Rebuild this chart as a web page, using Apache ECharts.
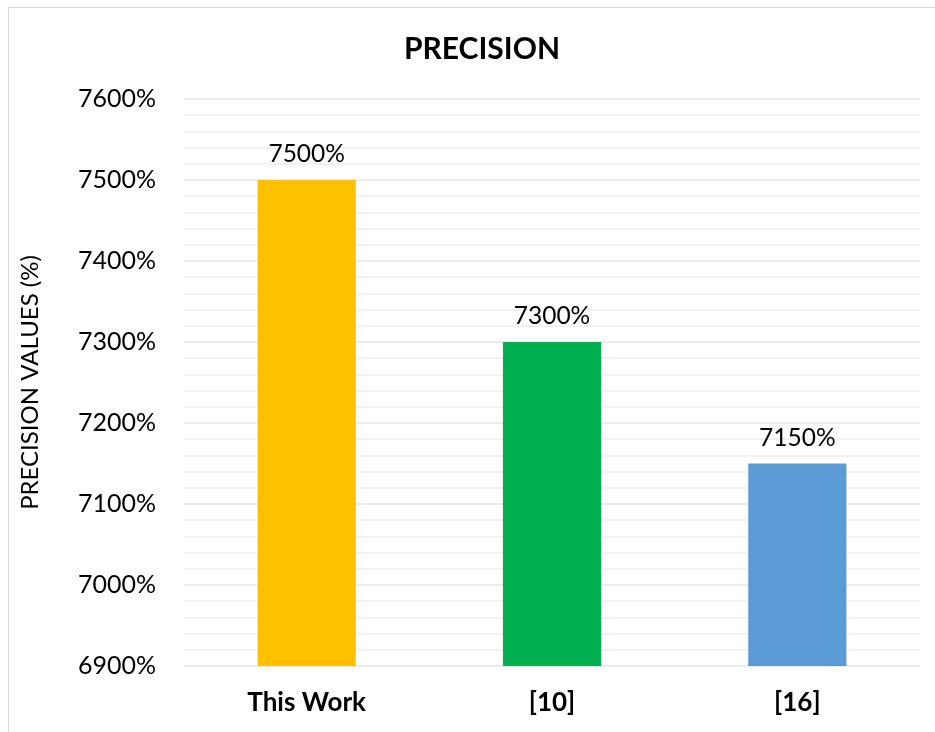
<!DOCTYPE html>
<html><head><meta charset="utf-8">
<script src="https://cdn.jsdelivr.net/npm/echarts@6/dist/echarts.min.js"></script>
<style>html,body{margin:0;padding:0;background:#fff}#c{width:935px;height:732px}</style>
</head><body><div id="c"></div>
<script>
const categories = ["This Work", "[10]", "[16]"];
const values = [7500, 7300, 7150];
const barColors = ["#FFC000", "#00B050", "#5B9BD5"];
const yMin = 6900, yMax = 7600, yStep = 100;

const chart = echarts.init(document.getElementById('c'), null, {renderer: 'canvas'});
const font = 'Lato, "Open Sans", sans-serif';
chart.setOption({
  animation: false,
  backgroundColor: '#fff',
  title: {
    text: 'PRECISION', left: 477, textAlign: 'center', top: 29,
    textStyle: {fontFamily: font, fontWeight: 'bold', fontSize: 30, color: '#000'}
  },
  graphic: [{
    type: 'rect', shape: {x: 8.5, y: 7.5, width: 1000, height: 1000},
    style: {fill: 'none', stroke: '#d9d9d9', lineWidth: 1}, silent: true, z: -1
  }],
  grid: {left: 184, right: 15, top: 99, bottom: 66},
  xAxis: {
    type: 'category', data: categories,
    axisLine: {show: false}, axisTick: {show: false},
    axisLabel: {fontFamily: font, fontWeight: 'bold', fontSize: 26, color: '#000', margin: 24}
  },
  yAxis: {
    type: 'value', min: yMin, max: yMax, interval: yStep,
    name: 'PRECISION VALUES (%)', nameLocation: 'middle', nameGap: 142,
    nameTextStyle: {fontFamily: font, fontSize: 24, color: '#000'},
    axisLine: {show: false}, axisTick: {show: false},
    axisLabel: {fontFamily: font, fontSize: 25, color: '#000', margin: 28, formatter: v => v + '%'},
    splitLine: {lineStyle: {color: '#e6e6e6', width: 1.5}},
    minorTick: {show: false, splitNumber: 5},
    minorSplitLine: {show: true, lineStyle: {color: '#eeeeee', width: 1.5}}
  },
  series: [{
    type: 'bar', barWidth: '40%',
    data: values.map((v, i) => ({value: v, itemStyle: {color: barColors[i]}})),
    label: {show: true, position: 'top', distance: 13, fontFamily: font, fontSize: 24.5, color: '#000', formatter: p => p.value + '%'}
  }]
});
</script></body></html>
